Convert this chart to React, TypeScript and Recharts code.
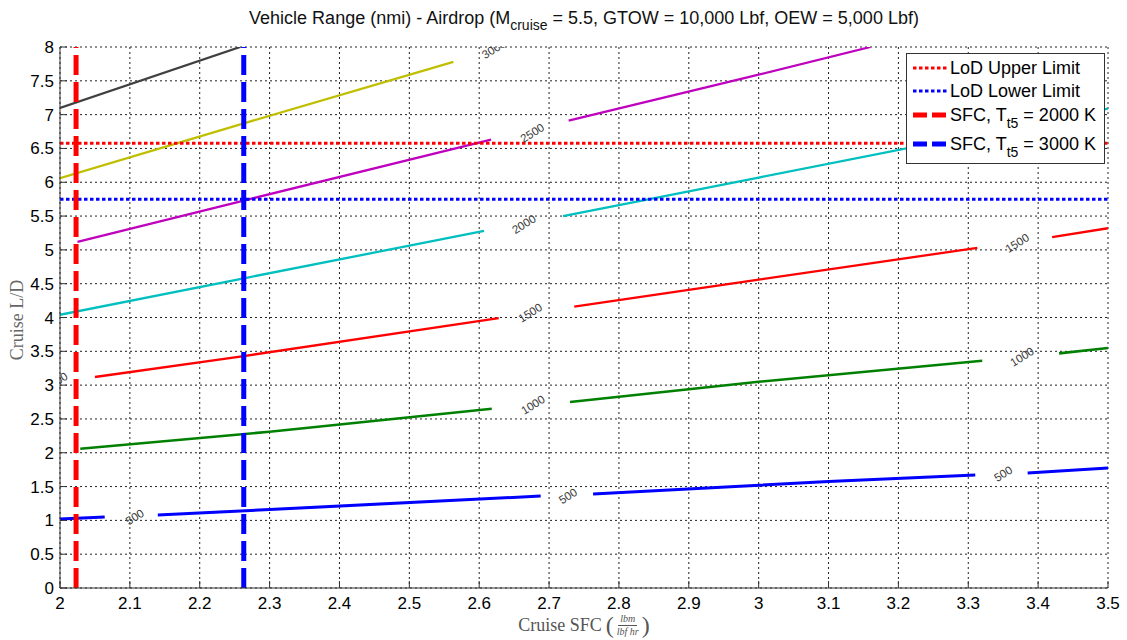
import React from "react";
import {
  ComposedChart, Line, XAxis, YAxis, CartesianGrid, ReferenceLine, ReferenceDot, Legend,
} from "recharts";

// axis ticks
const xTicks = [2, 2.1, 2.2, 2.3, 2.4, 2.5, 2.6, 2.7, 2.8, 2.9, 3, 3.1, 3.2, 3.3, 3.4, 3.5];
const yTicks = [0, 0.5, 1, 1.5, 2, 2.5, 3, 3.5, 4, 4.5, 5, 5.5, 6, 6.5, 7, 7.5, 8];

// contour segments (x = cruise SFC, y = cruise L/D), broken where the labels sit
const range500 = [
  [{ x: 2.0, y: 1.02 }, { x: 2.064, y: 1.05 }],
  [{ x: 2.14, y: 1.08 }, { x: 2.3, y: 1.16 }, { x: 2.688, y: 1.36 }],
  [{ x: 2.763, y: 1.39 }, { x: 3.1, y: 1.575 }, { x: 3.31, y: 1.67 }],
  [{ x: 3.385, y: 1.7 }, { x: 3.5, y: 1.775 }],
];
const range1000 = [
  [{ x: 2.029, y: 2.06 }, { x: 2.3, y: 2.31 }, { x: 2.618, y: 2.65 }],
  [{ x: 2.73, y: 2.75 }, { x: 3.0, y: 3.05 }, { x: 3.32, y: 3.36 }],
  [{ x: 3.43, y: 3.47 }, { x: 3.5, y: 3.55 }],
];
const range1500 = [
  [{ x: 2.05, y: 3.12 }, { x: 2.263, y: 3.43 }, { x: 2.628, y: 3.99 }],
  [{ x: 2.736, y: 4.16 }, { x: 3.0, y: 4.56 }, { x: 3.313, y: 5.03 }],
  [{ x: 3.42, y: 5.19 }, { x: 3.5, y: 5.32 }],
];
const range2000 = [
  [{ x: 2.0, y: 4.04 }, { x: 2.263, y: 4.58 }, { x: 2.607, y: 5.28 }],
  [{ x: 2.72, y: 5.5 }, { x: 3.0, y: 6.07 }, { x: 3.5, y: 7.09 }],
];
const range2500 = [
  [{ x: 2.025, y: 5.12 }, { x: 2.263, y: 5.73 }, { x: 2.617, y: 6.63 }],
  [{ x: 2.728, y: 6.91 }, { x: 3.0, y: 7.59 }, { x: 3.16, y: 8.0 }],
];
const range3000 = [
  [{ x: 2.0, y: 6.06 }, { x: 2.263, y: 6.87 }, { x: 2.563, y: 7.78 }],
];
const range3500 = [
  [{ x: 2.0, y: 7.1 }, { x: 2.258, y: 8.0 }],
];

// inline contour labels
const contourLabels = [
  { x: 2.107, y: 1.05, text: "500" },
  { x: 2.727, y: 1.36, text: "500" },
  { x: 3.35, y: 1.69, text: "500" },
  { x: 2.677, y: 2.71, text: "1000" },
  { x: 3.377, y: 3.42, text: "1000" },
  { x: 1.994, y: 3.05, text: "1500" },
  { x: 2.673, y: 4.07, text: "1500" },
  { x: 3.37, y: 5.1, text: "1500" },
  { x: 2.664, y: 5.38, text: "2000" },
  { x: 2.676, y: 6.73, text: "2500" },
  { x: 2.621, y: 7.97, text: "3000" },
];

// limits
const lodUpper = 6.576;
const lodLower = 5.75;
const sfc2000K = 2.023;
const sfc3000K = 2.263;

const contours = [
  { name: "500", segs: range500, color: "#0000ff", width: 3 },
  { name: "1000", segs: range1000, color: "#008000", width: 2.6 },
  { name: "1500", segs: range1500, color: "#ff0000", width: 2.3 },
  { name: "2000", segs: range2000, color: "#00bfbf", width: 2.3 },
  { name: "2500", segs: range2500, color: "#bf00bf", width: 2.3 },
  { name: "3000", segs: range3000, color: "#bfbf00", width: 2.3 },
  { name: "3500", segs: range3500, color: "#404040", width: 2.3 },
];

const legendItems = [
  { text: "LoD Upper Limit", sub: "", tail: "", color: "#ff0000", dashed: false },
  { text: "LoD Lower Limit", sub: "", tail: "", color: "#0000ff", dashed: false },
  { text: "SFC, T", sub: "t5", tail: " = 2000 K", color: "#ff0000", dashed: true },
  { text: "SFC, T", sub: "t5", tail: " = 3000 K", color: "#0000ff", dashed: true },
];

const SANS = "'Liberation Sans', Arial, sans-serif";
const SERIF = "'Liberation Serif', 'Times New Roman', serif";

const ContourText = (props: any) => {
  const { cx, cy, text, clipPath } = props;
  if (cx == null || cy == null) return null;
  return (
    <g clipPath={clipPath}>
      <text
        x={cx}
        y={cy}
        transform={`rotate(-32, ${cx}, ${cy})`}
        textAnchor="middle"
        dominantBaseline="central"
        fontSize={11.5}
        fontFamily={SANS}
        fill="#3a3a3a"
      >
        {text}
      </text>
    </g>
  );
};

const LegendBox = () => {
  const rowTops = [3, 26, 50, 79];
  return (
    <div
      style={{
        position: "relative",
        width: 197,
        height: 109,
        background: "#fff",
        border: "1px solid #333",
        fontFamily: SANS,
        fontSize: 18,
        color: "#000",
      }}
    >
      {legendItems.map((it, i) => (
        <div key={i} style={{ position: "absolute", left: 5, top: rowTops[i], display: "flex", alignItems: "center", whiteSpace: "nowrap" }}>
          <svg width={36} height={22} style={{ marginRight: 2 }}>
            <line
              x1={1}
              x2={35}
              y1={11}
              y2={11}
              stroke={it.color}
              strokeWidth={it.dashed ? 5 : 3}
              strokeDasharray={it.dashed ? "14 5" : "3.5 2.5"}
            />
          </svg>
          <span style={{ lineHeight: "22px" }}>
            {it.text}
            {it.sub && (
              <sub style={{ fontSize: 14, verticalAlign: -7, lineHeight: 0 }}>{it.sub}</sub>
            )}
            {it.tail}
          </span>
        </div>
      ))}
    </div>
  );
};

export default function App() {
  return (
    <div style={{ position: "absolute", left: 0, top: 0, width: 1127, height: 640, background: "#fff" }}>
      <div
        style={{
          position: "absolute",
          left: 60,
          width: 1048,
          top: 8,
          textAlign: "center",
          fontFamily: SANS,
          fontSize: 18,
          color: "#111",
          whiteSpace: "nowrap",
        }}
      >
        Vehicle Range (nmi) - Airdrop (M
        <sub style={{ fontSize: 14, verticalAlign: -6, lineHeight: 0 }}>cruise</sub>
        {" = 5.5, GTOW = 10,000 Lbf, OEW = 5,000 Lbf)"}
      </div>

      <ComposedChart
        width={1127}
        height={640}
        margin={{ top: 47, right: 19, left: 0, bottom: 0 }}
      >
        <CartesianGrid
          stroke="#222"
          strokeDasharray="2 3"
          horizontalValues={yTicks}
          verticalValues={xTicks}
        />
        <XAxis
          dataKey="x"
          type="number"
          domain={[2, 3.5]}
          ticks={xTicks}
          interval={0}
          allowDataOverflow
          height={52}
          tickSize={-7}
          tickMargin={16}
          stroke="#333"
          tick={{ fill: "#000", fontSize: 17, fontFamily: SANS }}
        />
        <XAxis
          xAxisId="top"
          orientation="top"
          type="number"
          domain={[2, 3.5]}
          ticks={xTicks}
          interval={0}
          height={0}
          tickSize={-7}
          tick={false}
          stroke="#333"
        />
        <YAxis
          type="number"
          domain={[0, 8]}
          ticks={yTicks}
          interval={0}
          allowDataOverflow
          width={60}
          tickSize={-7}
          tickMargin={13}
          stroke="#333"
          tick={{ fill: "#000", fontSize: 17, fontFamily: SANS }}
        />
        <YAxis
          yAxisId="right"
          orientation="right"
          type="number"
          domain={[0, 8]}
          ticks={yTicks}
          interval={0}
          width={0}
          tickSize={-7}
          tick={false}
          stroke="#333"
        />

        {contours.map((c) =>
          c.segs.map((seg, i) => (
            <Line
              key={`${c.name}-${i}`}
              data={seg}
              dataKey="y"
              type="linear"
              stroke={c.color}
              strokeWidth={c.width}
              dot={false}
              activeDot={false}
              legendType="none"
              isAnimationActive={false}
            />
          ))
        )}

        {contourLabels.map((l, i) => (
          <ReferenceDot
            key={`lbl-${i}`}
            x={l.x}
            y={l.y}
            r={0}
            ifOverflow="hidden"
            shape={(p: any) => <ContourText {...p} text={l.text} />}
          />
        ))}

        <ReferenceLine y={lodUpper} stroke="#ff0000" strokeWidth={3} strokeDasharray="3.5 2.5" />
        <ReferenceLine y={lodLower} stroke="#0000ff" strokeWidth={3} strokeDasharray="3.5 2.5" />
        <ReferenceLine x={sfc2000K} stroke="#ff0000" strokeWidth={5} strokeDasharray="20 7" />
        <ReferenceLine x={sfc3000K} stroke="#0000ff" strokeWidth={5} strokeDasharray="20 7" />

        <Legend
          layout="vertical"
          align="center"
          verticalAlign="middle"
          content={() => <LegendBox />}
          wrapperStyle={{ left: 906, top: 53, width: 199, height: 111 }}
        />
      </ComposedChart>

      <div
        style={{
          position: "absolute",
          left: 60,
          width: 1048,
          top: 608,
          height: 34,
          fontFamily: SERIF,
          fontSize: 18,
          color: "#555",
          whiteSpace: "nowrap",
          display: "flex",
          justifyContent: "center",
          alignItems: "center",
        }}
      >
        <span style={{ marginRight: 4 }}>Cruise SFC</span>
        <span style={{ fontSize: 24, lineHeight: "26px" }}>(</span>
        <span style={{ display: "inline-flex", flexDirection: "column", alignItems: "center", fontStyle: "italic", fontSize: 10, lineHeight: "12px", margin: "0 3px" }}>
          <span style={{ borderBottom: "1px solid #555", padding: "0 2px" }}>lbm</span>
          <span>lbf hr</span>
        </span>
        <span style={{ fontSize: 24, lineHeight: "26px" }}>)</span>
      </div>

      <div
        style={{
          position: "absolute",
          left: 17,
          top: 320,
          transform: "translate(-50%, -50%) rotate(-90deg)",
          fontFamily: SERIF,
          fontSize: 18,
          color: "#666",
          whiteSpace: "nowrap",
        }}
      >
        Cruise L/D
      </div>
    </div>
  );
}
